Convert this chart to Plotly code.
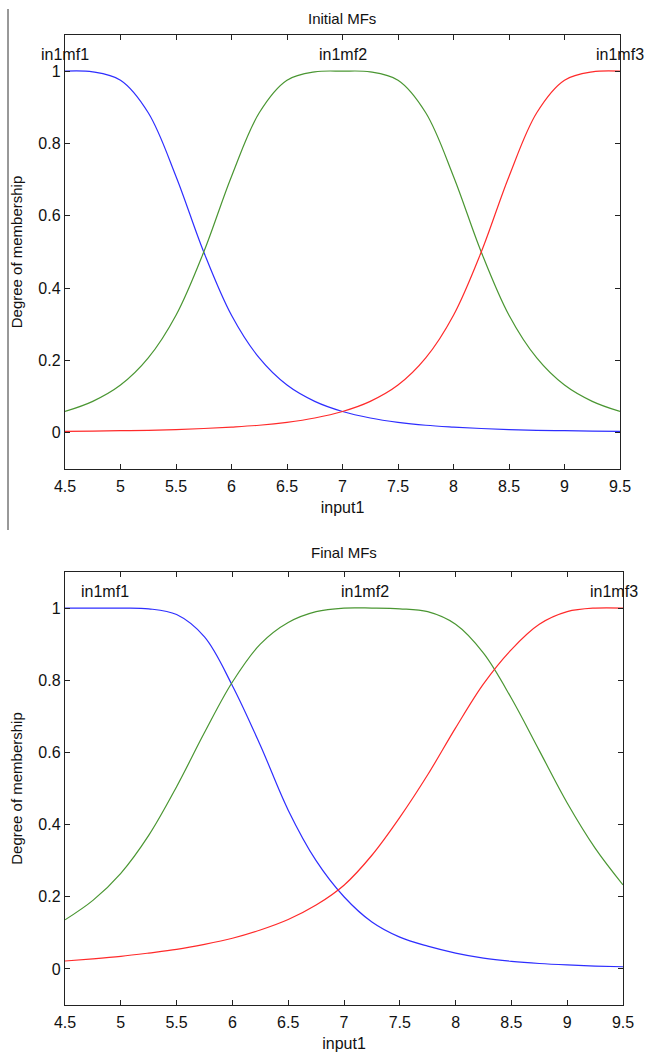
import plotly.graph_objects as go

W, H = 646, 1054

x_vals = [4.5, 4.75, 5.0, 5.25, 5.5, 5.75, 6.0, 6.25, 6.5, 6.75, 7.0,
          7.25, 7.5, 7.75, 8.0, 8.25, 8.5, 8.75, 9.0, 9.25, 9.5]

# Initial MFs
init_mf1 = [1.0, 0.998, 0.975, 0.885, 0.709, 0.5, 0.325, 0.207, 0.132, 0.087, 0.059,
            0.041, 0.029, 0.021, 0.016, 0.012, 0.009, 0.007, 0.006, 0.005, 0.004]
init_mf2 = [0.059, 0.087, 0.132, 0.207, 0.325, 0.5, 0.709, 0.885, 0.975, 0.998, 1.0,
            0.998, 0.975, 0.885, 0.709, 0.5, 0.325, 0.207, 0.132, 0.087, 0.059]
init_mf3 = [0.004, 0.005, 0.006, 0.007, 0.009, 0.012, 0.016, 0.021, 0.029, 0.041, 0.059,
            0.087, 0.132, 0.207, 0.325, 0.5, 0.709, 0.885, 0.975, 0.998, 1.0]

# Final MFs
final_mf1 = [1.0, 1.0, 1.0, 0.998, 0.982, 0.92, 0.785, 0.62, 0.44, 0.3, 0.2,
             0.13, 0.088, 0.063, 0.044, 0.03, 0.021, 0.015, 0.011, 0.008, 0.006]
final_mf2 = [0.136, 0.19, 0.265, 0.37, 0.505, 0.655, 0.795, 0.9, 0.96, 0.99, 1.0,
             1.0, 0.998, 0.99, 0.955, 0.875, 0.75, 0.605, 0.46, 0.335, 0.233]
final_mf3 = [0.022, 0.028, 0.035, 0.044, 0.054, 0.068, 0.085, 0.108, 0.137, 0.177, 0.232,
             0.315, 0.42, 0.538, 0.668, 0.79, 0.885, 0.955, 0.99, 1.0, 1.0]

mf_names = ["in1mf1", "in1mf2", "in1mf3"]
init_label_x = [4.5, 7.0, 9.5]
final_label_x = [4.86, 7.19, 9.42]
label_y = 1.047

x_ticks = [4.5, 5, 5.5, 6, 6.5, 7, 7.5, 8, 8.5, 9, 9.5]
x_tick_text = ["4.5", "5", "5.5", "6", "6.5", "7", "7.5", "8", "8.5", "9", "9.5"]
y_ticks = [0, 0.2, 0.4, 0.6, 0.8, 1]
y_tick_text = ["0", "0.2", "0.4", "0.6", "0.8", "1"]

colors = ["#2e2eff", "#4a9632", "#ff2a2a"]
FONT = "Liberation Sans, Arial, sans-serif"
TXT = "#111111"


def px_x(p):
    return p / W


def px_y(p):
    return 1 - p / H


fig = go.Figure()

for i, ys in enumerate([init_mf1, init_mf2, init_mf3]):
    fig.add_trace(go.Scatter(x=x_vals, y=ys, mode="lines",
                             line=dict(color=colors[i], width=1.2, shape="spline", smoothing=1.0),
                             xaxis="x", yaxis="y", showlegend=False, hoverinfo="skip"))
for i, ys in enumerate([final_mf1, final_mf2, final_mf3]):
    fig.add_trace(go.Scatter(x=x_vals, y=ys, mode="lines",
                             line=dict(color=colors[i], width=1.2, shape="spline", smoothing=1.0),
                             xaxis="x2", yaxis="y2", showlegend=False, hoverinfo="skip"))

axis_common = dict(showgrid=False, zeroline=False, showline=True, linecolor="#222222", linewidth=1.4,
                   mirror="ticks", ticks="inside", ticklen=5, tickcolor="#222222", tickwidth=1.3,
                   automargin=False,
                   tickfont=dict(family=FONT, size=16, color=TXT))

fig.update_layout(
    width=W, height=H, margin=dict(l=0, r=0, t=0, b=0),
    paper_bgcolor="white", plot_bgcolor="white",
    xaxis=dict(domain=[px_x(65), px_x(620)], range=[4.5, 9.5], anchor="y",
               tickvals=x_ticks, ticktext=x_tick_text, ticklabelstandoff=3,
               title=dict(text="input1", font=dict(family=FONT, size=16, color=TXT), standoff=7),
               **axis_common),
    yaxis=dict(domain=[px_y(469), px_y(35)], range=[-0.1, 1.1], anchor="x",
               tickvals=y_ticks, ticktext=y_tick_text,
               title=dict(text="Degree of membership", font=dict(family=FONT, size=15, color=TXT), standoff=12),
               **axis_common),
    xaxis2=dict(domain=[px_x(65), px_x(623)], range=[4.5, 9.5], anchor="y2",
                tickvals=x_ticks, ticktext=x_tick_text, ticklabelstandoff=3,
                title=dict(text="input1", font=dict(family=FONT, size=16, color=TXT), standoff=7),
                **axis_common),
    yaxis2=dict(domain=[px_y(1005), px_y(572)], range=[-0.1, 1.1], anchor="x2",
                tickvals=y_ticks, ticktext=y_tick_text,
                title=dict(text="Degree of membership", font=dict(family=FONT, size=15, color=TXT), standoff=12),
                **axis_common),
)

annotations = []
for name, lx in zip(mf_names, init_label_x):
    annotations.append(dict(x=lx, y=label_y, xref="x", yref="y", text=name, showarrow=False,
                            font=dict(family=FONT, size=16, color=TXT), xanchor="center", yanchor="middle"))
for name, lx in zip(mf_names, final_label_x):
    annotations.append(dict(x=lx, y=label_y, xref="x2", yref="y2", text=name, showarrow=False,
                            font=dict(family=FONT, size=16, color=TXT), xanchor="center", yanchor="middle"))
annotations.append(dict(x=px_x(342), y=px_y(18), xref="paper", yref="paper", text="Initial MFs", showarrow=False,
                        font=dict(family=FONT, size=15, color=TXT), xanchor="center", yanchor="middle"))
annotations.append(dict(x=px_x(344), y=px_y(552), xref="paper", yref="paper", text="Final MFs", showarrow=False,
                        font=dict(family=FONT, size=15, color=TXT), xanchor="center", yanchor="middle"))
fig.update_layout(annotations=annotations)

fig.add_shape(type="line", xref="paper", yref="paper", x0=px_x(8), x1=px_x(8), y0=px_y(9), y1=px_y(530),
              line=dict(color="#333333", width=1))

fig.write_html("out.html", config={"displayModeBar": False},
               post_script="document.body.style.margin='0';document.body.style.overflow='hidden';")
